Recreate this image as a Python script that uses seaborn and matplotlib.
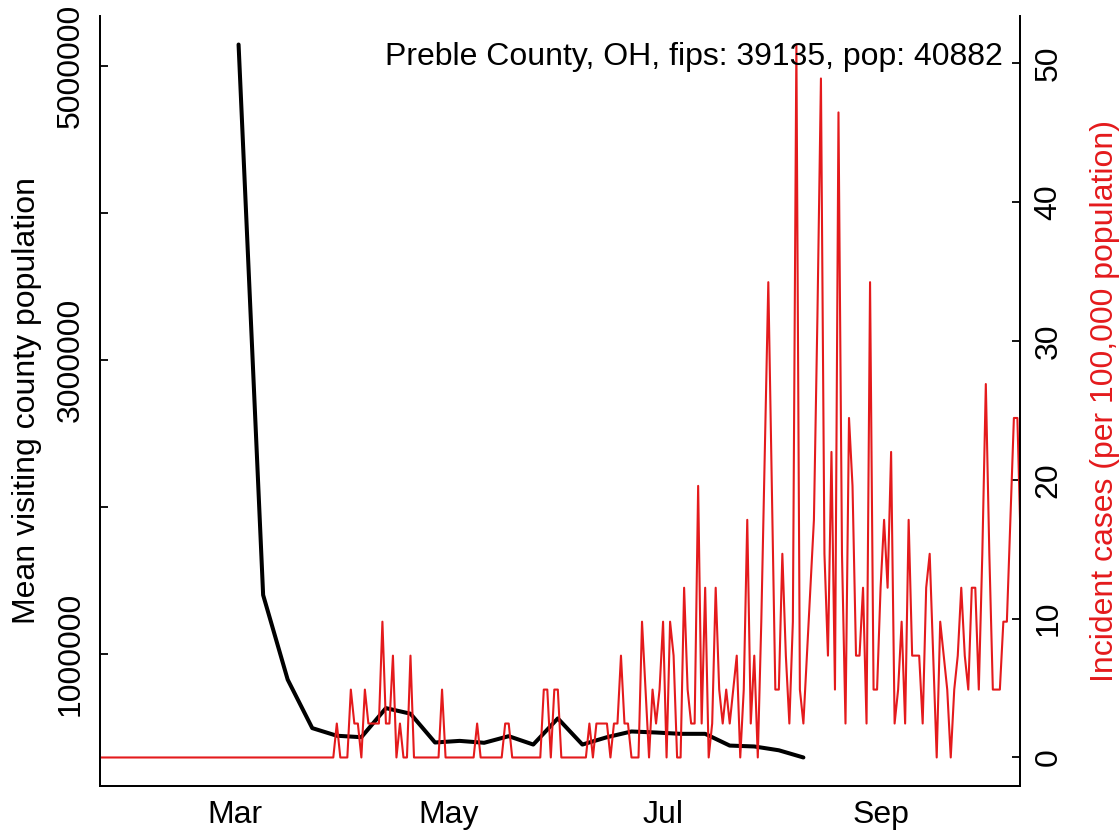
import pandas as pd
import numpy as np
import matplotlib
matplotlib.use('Agg')
import matplotlib.pyplot as plt
import matplotlib.dates as mdates
import seaborn as sns

# datos
county_label = 'Preble County, OH, fips: 39135, pop: 40882'
population = 40882

# poblacion media visitante (semanal, desde 2020-03-02)
visit_start = '2020-03-02'
visit_pop = [5147000, 1400000, 824000, 494000, 442000, 432000, 630000, 592000,
             396000, 407000, 394000, 439000, 382000, 560000, 382000, 432000,
             471000, 464000, 455000, 455000, 375000, 369000, 343000, 294000]

# casos diarios (conteos), desde 2020-01-22
cases_start = '2020-01-22'
daily_cases = [
    0, 0, 0, 0, 0, 0, 0, 0, 0, 0, 0, 0, 0, 0, 0, 0, 0, 0, 0, 0,
    0, 0, 0, 0, 0, 0, 0, 0, 0, 0, 0, 0, 0, 0, 0, 0, 0, 0, 0, 0,
    0, 0, 0, 0, 0, 0, 0, 0, 0, 0, 0, 0, 0, 0, 0, 0, 0, 0, 0, 0,
    0, 0, 0, 0, 0, 0, 0, 0, 1, 0, 0, 0, 2, 1, 1, 0, 2, 1, 1, 1,
    1, 4, 1, 1, 3, 0, 1, 0, 0, 3, 0, 0, 0, 0, 0, 0, 0, 0, 2, 0,
    0, 0, 0, 0, 0, 0, 0, 0, 1, 0, 0, 0, 0, 0, 0, 0, 1, 1, 0, 0,
    0, 0, 0, 0, 0, 0, 0, 2, 2, 0, 2, 2, 0, 0, 0, 0, 0, 0, 0, 0,
    1, 0, 1, 1, 1, 1, 0, 1, 1, 3, 1, 1, 0, 0, 0, 4, 2, 0, 2, 1,
    2, 4, 0, 4, 3, 0, 0, 5, 2, 1, 1, 8, 1, 5, 0, 1, 5, 2, 1, 2,
    1, 2, 3, 0, 2, 7, 1, 3, 0, 4, 9, 14, 8, 2, 2, 6, 3, 1, 4, 21,
    2, 1, 3, 5, 7, 13, 20, 6, 3, 9, 2, 19, 6, 1, 10, 8, 3, 3, 5, 1,
    14, 2, 2, 5, 7, 5, 9, 1, 2, 4, 1, 7, 3, 3, 3, 1, 5, 6, 3, 0,
    4, 3, 2, 0, 2, 3, 5, 3, 2, 5, 5, 2, 6, 11, 6, 2, 2, 2, 4, 4,
    7, 10, 10, 6]

month_ticks = [3, 5, 7, 9]
left_ticks = [1000000, 2000000, 3000000, 4000000, 5000000]
left_ticklabels = ['1000000', '', '3000000', '', '5000000']
right_ticks = [0, 10, 20, 30, 40, 50]

red = '#E41A1C'

sns.set_style('white')
plt.rcParams['font.family'] = ['Liberation Sans', 'DejaVu Sans']
plt.rcParams['font.size'] = 23
for k in ('text.color', 'axes.labelcolor', 'xtick.color', 'ytick.color'):
    plt.rcParams[k] = 'black'

visit_dates = pd.date_range(visit_start, periods=len(visit_pop), freq='7D')
case_dates = pd.date_range(cases_start, periods=len(daily_cases), freq='D')
incidence = np.array(daily_cases) * 100000 / population

fig = plt.figure(figsize=(11.19, 8.30), dpi=100)
ax = fig.add_axes([100 / 1119, 1 - 786 / 830, 919.5 / 1119, 770 / 830])
ax2 = ax.twinx()

sns.lineplot(x=visit_dates, y=visit_pop, ax=ax, color='black', linewidth=2.9)
sns.lineplot(x=case_dates, y=incidence, ax=ax2, color=red, linewidth=1.5)

# ejes al estilo R (4% de margen)
lo, hi = min(visit_pop), max(visit_pop)
pad = 0.04 * (hi - lo)
ax.set_ylim(lo - pad, hi + pad)
lo2, hi2 = incidence.min(), incidence.max()
pad2 = 0.04 * (hi2 - lo2)
ax2.set_ylim(lo2 - pad2, hi2 + pad2)

t0 = pd.Timestamp(cases_start)
ax.set_xlim(t0 + pd.Timedelta(hours=12), t0 + pd.Timedelta(days=262.6))

ax.xaxis.set_major_locator(mdates.MonthLocator(bymonth=month_ticks))
ax.xaxis.set_major_formatter(mdates.DateFormatter('%b'))

ax.set_yticks(left_ticks)
ax.set_yticklabels(left_ticklabels)
ax2.set_yticks(right_ticks)
ax2.set_yticklabels([str(t) for t in right_ticks])

for a in (ax, ax2):
    a.tick_params(direction='in', length=6, width=1.3, pad=10, labelsize=23)
    for s in a.spines.values():
        s.set_linewidth(1.3)
        s.set_color('black')
    a.spines['top'].set_visible(False)
plt.setp(ax.get_yticklabels(), rotation=90, va='center')
plt.setp(ax2.get_yticklabels(), rotation=90, va='center')

ax.set_xlabel('')
ax.set_ylabel('Mean visiting county population', fontsize=23)
ax.yaxis.set_label_coords(-0.063, 0.5)
ax2.set_ylabel('Incident cases (per 100,000 population)', fontsize=23, color=red)
ax2.yaxis.set_label_coords(1.0766, 0.5)

fig.text(1003 / 1119, 1 - 57 / 830, county_label, ha='right', va='center', fontsize=23)

plt.savefig('out.png', dpi=100)
